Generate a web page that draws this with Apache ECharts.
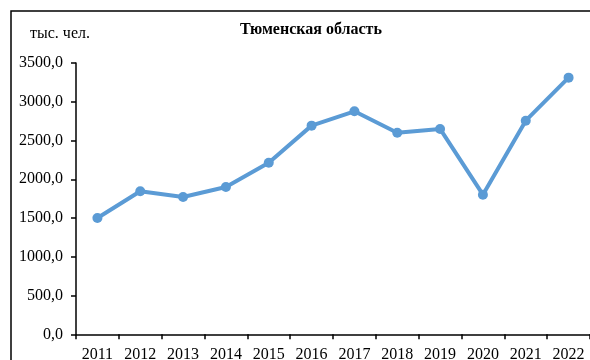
<!DOCTYPE html>
<html>
<head>
<meta charset="utf-8">
<script src="https://cdn.jsdelivr.net/npm/echarts@6/dist/echarts.min.js"></script>
<style>
  html, body { margin: 0; padding: 0; background: #fff; }
  #chart { width: 590px; height: 360px; }
</style>
</head>
<body>
<div id="chart"></div>
<script>
// Численность населения, тыс. чел.
const years = ['2011', '2012', '2013', '2014', '2015', '2016', '2017', '2018', '2019', '2020', '2021', '2022'];
const population = [1500, 1845, 1772, 1901, 2214, 2692, 2877, 2601, 2649, 1801, 2756, 3311];
const chartTitle = 'Тюменская область';
const unitLabel = 'тыс. чел.';

const serif = '"Liberation Serif", "Times New Roman", serif';

const chart = echarts.init(document.getElementById('chart'), null, { renderer: 'canvas' });
chart.setOption({
  animation: false,
  backgroundColor: '#fff',
  title: {
    text: chartTitle,
    left: 306,
    top: 17,
    textAlign: 'center',
    textStyle: { fontFamily: serif, fontSize: 16, fontWeight: 'bold', color: '#000' }
  },
  graphic: [
    {
      type: 'rect',
      shape: { x: 11, y: 11, width: 600, height: 400 },
      style: { fill: 'none', stroke: '#000', lineWidth: 1.5 },
      silent: true
    },
    {
      type: 'text',
      left: 30,
      top: 26,
      style: { text: unitLabel, font: '16px ' + serif, fill: '#000' }
    }
  ],
  grid: { left: 76, right: 0, top: 63, bottom: 25.7, containLabel: false, outerBoundsMode: 'none' },
  xAxis: {
    type: 'category',
    data: years,
    boundaryGap: true,
    axisLine: { lineStyle: { color: '#000', width: 1.5 } },
    axisTick: { show: true, length: 5, lineStyle: { color: '#000', width: 1.5 } },
    axisLabel: { fontFamily: serif, fontSize: 16, color: '#000', margin: 12 }
  },
  yAxis: {
    type: 'value',
    min: 0,
    max: 3500,
    interval: 500,
    splitLine: { show: false },
    axisLine: { show: true, lineStyle: { color: '#000', width: 1.5 } },
    axisTick: { show: true, length: 5, lineStyle: { color: '#000', width: 1.5 } },
    axisLabel: {
      fontFamily: serif, fontSize: 16, color: '#000', margin: 13,
      formatter: v => v.toFixed(1).replace('.', ',')
    }
  },
  series: [{
    type: 'line',
    data: population,
    symbol: 'circle',
    symbolSize: 10,
    lineStyle: { color: '#5B9BD5', width: 4 },
    itemStyle: { color: '#5B9BD5' }
  }]
});
</script>
</body>
</html>
